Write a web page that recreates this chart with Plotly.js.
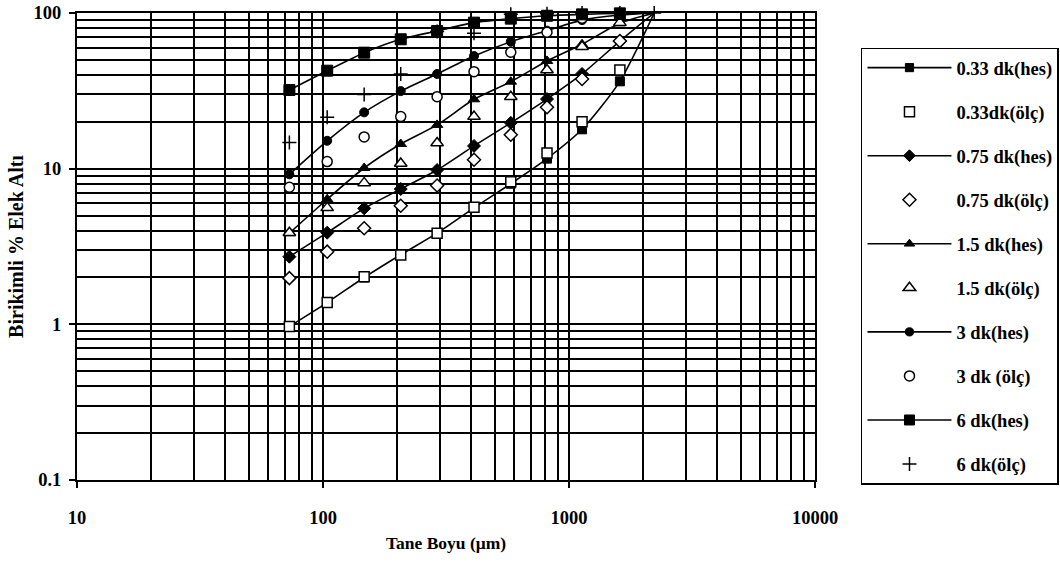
<!DOCTYPE html>
<html><head><meta charset="utf-8">
<script src="https://cdn.plot.ly/plotly-3.0.1.min.js"></script>
<style>html,body{margin:0;padding:0;background:#fff}#chart{width:1060px;height:565px}</style>
</head><body><div id="chart"></div>
<script>
// Particle size (µm)
const sizes = [73, 104, 147, 207, 291, 411, 580, 814, 1130, 1610, 2220];
// Cumulative % undersize, computed (hes) and measured (ölç)
const hes033 = [0.97, 1.38, 2.0, 2.8, 3.85, 5.6, 8.0, 11.6, 17.9, 36.4, 100];
const olc033 = [0.97, 1.38, 2.02, 2.79, 3.85, 5.65, 8.25, 12.6, 20.0, 43, null];
const hes075 = [2.72, 3.88, 5.56, 7.4, 9.8, 14.0, 19.7, 28.0, 40.6, 66, 100];
const olc075 = [1.98, 2.93, 4.14, 5.78, 7.8, 11.4, 16.5, 24.8, 37.7, 66, null];
const hes15  = [3.85, 6.36, 10.1, 14.4, 19.1, 27.9, 36.2, 49.2, 63, 86, 100];
const olc15  = [3.88, 5.6, 8.1, 10.8, 14.6, 21.6, 29, 43, 60.8, 86.7, null];
const hes3   = [9.2, 15.1, 23, 31.5, 40.6, 52.9, 65.4, 77, 90, 97, 100];
const olc3   = [7.6, 11.1, 16.0, 21.6, 29, 42, 56, 75.2, 92.5, null, null];
const hes6   = [32, 42.6, 55.6, 67.8, 76.6, 86.7, 92, 96, 98, 99.5, 100];
const olc6   = [14.7, 21.4, 30, 40.6, 76, 74, 98, 99, 100, 100, 100];

const names = ['0.33 dk(hes)','0.33dk(ölç)','0.75 dk(hes)','0.75 dk(ölç)','1.5 dk(hes)','1.5 dk(ölç)','3 dk(hes)','3 dk (ölç)','6 dk(hes)','6 dk(ölç)'];
const xTickVals = [10, 100, 1000, 10000];
const xTickText = ['10', '100', '1000', '10000'];

const FF = '"Liberation Serif", "Times New Roman", serif';
const BLACK = '#000';

function lastHidden(sz){ return sizes.map((_, i) => i === sizes.length - 1 ? 0 : sz); }

function hesTrace(y, name, symbol, sz, g){
  return {x: sizes, y: y, name: name, legendgroup: g, mode: 'lines+markers', cliponaxis: false,
    line: {color: BLACK, width: 1.6, shape: 'spline', smoothing: 0.7},
    marker: {symbol: symbol, size: lastHidden(sz), color: BLACK, opacity: 1, line: {color: BLACK, width: 1}}};
}
function olcTrace(y, name, symbol, sz, g){
  return {x: sizes, y: y, name: name, legendgroup: g, mode: 'markers', cliponaxis: false,
    marker: {symbol: symbol, size: sz, color: '#fff', opacity: 1, line: {color: BLACK, width: 1.5}}};
}

const traces = [
  hesTrace(hes033, names[0], 'square', 9, 'g0'),
  olcTrace(olc033, names[1], 'square', 10, 'g1'),
  hesTrace(hes075, names[2], 'diamond', 10, 'g2'),
  olcTrace(olc075, names[3], 'diamond', 10, 'g3'),
  hesTrace(hes15, names[4], 'triangle-up', 10, 'g4'),
  olcTrace(olc15, names[5], 'triangle-up', 11, 'g5'),
  hesTrace(hes3, names[6], 'circle', 9, 'g6'),
  olcTrace(olc3, names[7], 'circle', 10, 'g7'),
  hesTrace(hes6, names[8], 'square', 11, 'g8'),
  {x: sizes, y: olc6, name: names[9], legendgroup: 'g9', mode: 'markers', cliponaxis: false,
   marker: {symbol: 'cross-thin', size: 10, color: BLACK, opacity: 1, line: {color: BLACK, width: 1.5}}}
];

const axisCommon = {
  type: 'log', showline: true, mirror: true, linecolor: BLACK, linewidth: 2,
  ticks: 'outside', ticklen: 6, tickwidth: 2, tickcolor: BLACK,
  showgrid: true, gridcolor: BLACK, gridwidth: 2, zeroline: false, automargin: false,
  minor: {dtick: 'D1', showgrid: true, gridcolor: BLACK, gridwidth: 2, ticks: ''},
  tickfont: {family: FF, size: 18.5, color: BLACK, weight: 'bold'}
};

const layout = {
  width: 1060, height: 565,
  margin: {l: 77, r: 245, t: 13, b: 85, autoexpand: false},
  paper_bgcolor: '#fff', plot_bgcolor: '#fff',
  font: {family: FF, size: 17, color: BLACK},
  showlegend: true,
  xaxis: Object.assign({}, axisCommon, {
    range: [1, 4], tickmode: 'array', tickvals: xTickVals, ticktext: xTickText, ticklabelstandoff: 14,
    title: {text: 'Tane Boyu (μm)', font: {family: FF, size: 17.5, color: BLACK, weight: 'bold'}, standoff: 10}
  }),
  yaxis: Object.assign({}, axisCommon, {
    range: [-1, 2], dtick: 1, exponentformat: 'none', ticklabelstandoff: 4,
    title: {text: 'Birikimli % Elek Altı', font: {family: FF, size: 20, color: BLACK, weight: 'bold'}, standoff: 5}
  }),
  legend: {
    x: 1.0623, xanchor: 'left', y: 0.926, yanchor: 'top',
    bgcolor: '#fff', bordercolor: BLACK, borderwidth: 1.5,
    font: {family: FF, size: 18.5, color: BLACK, weight: 'bold'},
    tracegroupgap: 17, itemwidth: 84
  }
};

Plotly.newPlot('chart', traces, layout, {displayModeBar: false, staticPlot: true});
</script>
</body></html>
